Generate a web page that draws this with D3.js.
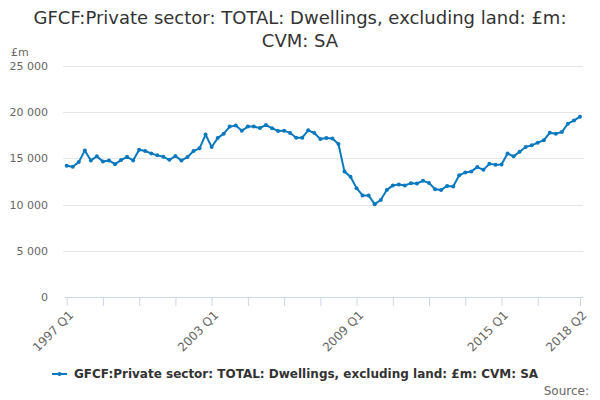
<!DOCTYPE html>
<html>
<head>
<meta charset="utf-8">
<script src="https://cdn.jsdelivr.net/npm/d3@7"></script>
<style>
body { margin: 0; background: #fff; }
text { font-family: "DejaVu Sans", sans-serif; }
</style>
</head>
<body>
<div id="chart"></div>
<script>
// quarterly values, 1997 Q1 .. 2018 Q2
var values = [
  14200, 14100, 14600, 15850, 14780, 15220, 14670, 14780, 14380, 14820,
  15170, 14780, 15940, 15800, 15540, 15330, 15170, 14850, 15250, 14780,
  15140, 15800, 16090, 17580, 16230, 17200, 17680, 18440, 18550, 18000,
  18440, 18440, 18290, 18620, 18260, 17970, 18000, 17750, 17240, 17240,
  18040, 17750, 17100, 17210, 17150, 16550, 13570, 13020, 11780, 10990,
  10990, 10050, 10500, 11570, 12080, 12170, 12070, 12320, 12280, 12570,
  12350, 11660, 11590, 12020, 11960, 13170, 13480, 13590, 14060, 13760,
  14410, 14300, 14350, 15540, 15220, 15720, 16230, 16410, 16700, 16960,
  17780, 17680, 17860, 18760, 19090, 19520
];
var yTicks = [0, 5000, 10000, 15000, 20000, 25000];
var labelQuarters = ["1997 Q1", "2003 Q1", "2009 Q1", "2015 Q1", "2018 Q2"];

var quarters = values.map(function(d, i) {
  return (1997 + Math.floor(i / 4)) + " Q" + (i % 4 + 1);
});
var data = values.map(function(v, i) { return { q: quarters[i], v: v }; });

var seriesName = "GFCF:Private sector: TOTAL: Dwellings, excluding land: £m: CVM: SA";

var width = 600, height = 400;
var svg = d3.select("#chart").append("svg")
  .attr("width", width)
  .attr("height", height);

var x = d3.scalePoint()
  .domain(quarters)
  .range([66.7, 580]);

var y = d3.scaleLinear()
  .domain([0, 25000])
  .range([297, 66]);

// title
var title = svg.append("text")
  .attr("x", 300)
  .attr("y", 24)
  .attr("text-anchor", "middle")
  .style("font-size", "18px")
  .style("fill", "#333333");
title.append("tspan").attr("x", 300).text("GFCF:Private sector: TOTAL: Dwellings, excluding land: £m:");
title.append("tspan").attr("x", 300).attr("dy", 23).text("CVM: SA");

// unit label
svg.append("text")
  .attr("x", 11)
  .attr("y", 56)
  .style("font-size", "11px")
  .style("fill", "#666666")
  .text("£m");

// gridlines
svg.append("g")
  .selectAll("line")
  .data(yTicks.slice(1))
  .enter().append("line")
  .attr("x1", 63).attr("x2", 583)
  .attr("y1", function(d) { return Math.round(y(d)) + 0.5; })
  .attr("y2", function(d) { return Math.round(y(d)) + 0.5; })
  .style("stroke", "#e6e6e6")
  .style("stroke-width", 1);

// y axis labels
svg.append("g")
  .selectAll("text")
  .data(yTicks)
  .enter().append("text")
  .attr("x", 48)
  .attr("y", function(d) { return y(d) + 4; })
  .attr("text-anchor", "end")
  .style("font-size", "11px")
  .style("fill", "#666666")
  .text(function(d) { return d3.format(",")(d).replace(/,/g, " "); });

// x axis
var tickQuarters = quarters.filter(function(d, i) { return i % 6 === 0 && i <= 78; });
tickQuarters.push(quarters[quarters.length - 1]);

var xAxis = d3.axisBottom(x)
  .tickValues(tickQuarters)
  .tickSize(9)
  .tickFormat(function(d) { return labelQuarters.indexOf(d) >= 0 ? d : ""; });

var gx = svg.append("g")
  .attr("transform", "translate(0,297)")
  .call(xAxis);

gx.select(".domain")
  .attr("d", "M65,0.5H583")
  .style("stroke", "#ccd6eb");
gx.selectAll(".tick line").style("stroke", "#ccd6eb");
gx.selectAll(".tick text")
  .attr("text-anchor", "end")
  .attr("transform", "translate(4,16) rotate(-45)")
  .attr("dy", "0.35em")
  .attr("y", 0)
  .style("font-size", "12px")
  .style("font-family", "DejaVu Sans, sans-serif")
  .style("fill", "#666666");

// series line
var blue = "#0a78bf";
var line = d3.line()
  .x(function(d) { return x(d.q); })
  .y(function(d) { return y(d.v); });

svg.append("path")
  .datum(data)
  .attr("d", line)
  .style("fill", "none")
  .style("stroke", blue)
  .style("stroke-width", 2)
  .style("stroke-linejoin", "round");

svg.append("g")
  .selectAll("circle")
  .data(data)
  .enter().append("circle")
  .attr("cx", function(d) { return x(d.q); })
  .attr("cy", function(d) { return y(d.v); })
  .attr("r", 2)
  .style("fill", blue);

// legend
svg.append("line")
  .attr("x1", 52).attr("x2", 67)
  .attr("y1", 374).attr("y2", 374)
  .style("stroke", blue)
  .style("stroke-width", 2);
svg.append("circle")
  .attr("cx", 59.5).attr("cy", 374).attr("r", 2)
  .style("fill", blue);
svg.append("text")
  .attr("x", 74)
  .attr("y", 378)
  .style("font-size", "12px")
  .style("font-weight", "bold")
  .style("fill", "#333333")
  .text(seriesName);

// credits
svg.append("text")
  .attr("x", 589)
  .attr("y", 395)
  .attr("text-anchor", "end")
  .style("font-size", "12px")
  .style("fill", "#666666")
  .text("Source:");
</script>
</body>
</html>
